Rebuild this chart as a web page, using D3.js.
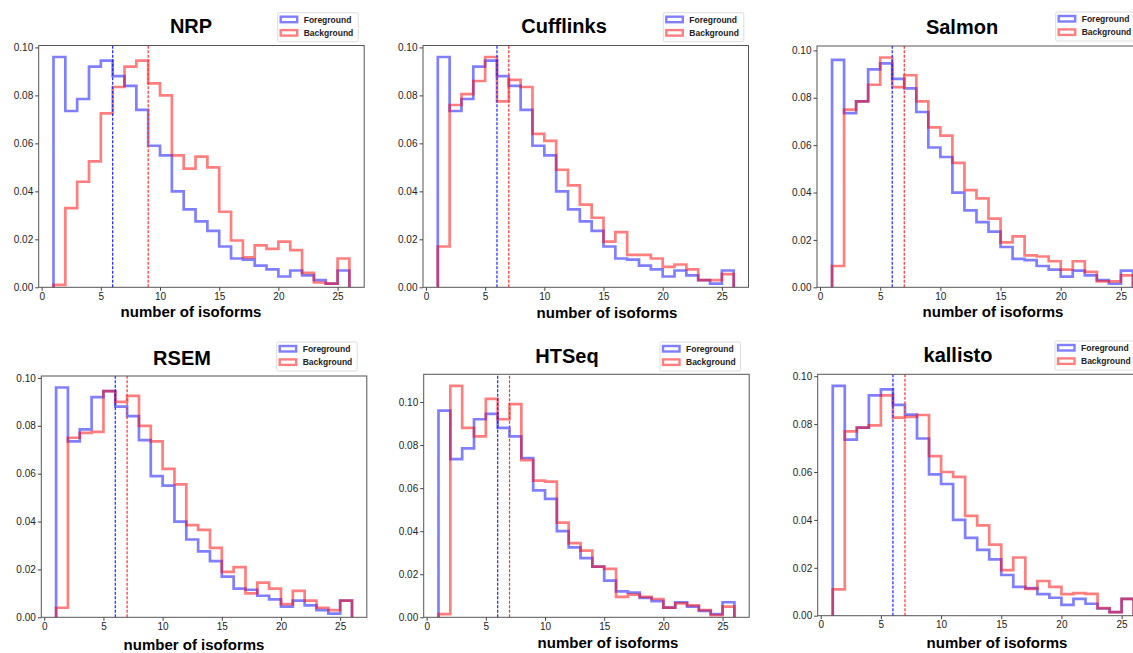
<!DOCTYPE html>
<html>
<head>
<meta charset="utf-8">
<script src="https://cdn.jsdelivr.net/npm/d3@7"></script>
<style>
  body { margin: 0; background: #fff; }
  .chart text { font-family: "Liberation Sans", Arial, sans-serif; }
  .axis text { font-size: 10px; fill: #222; }
  .axis path, .axis line { stroke: #444; }
</style>
</head>
<body>
<div class="chart"></div>
<script>
// histogram bin edges (number of isoforms)
const binEdges = [1, 2, 3, 4, 5, 6, 7, 8, 9, 10, 11, 12, 13, 14, 15, 16, 17, 18, 19, 20, 21, 22, 23, 24, 25, 26];

const methods = ["NRP", "Cufflinks", "Salmon", "RSEM", "HTSeq", "kallisto"];

// foreground is the same gene set in every panel
const foreground = [0.096, 0.0735, 0.0785, 0.092, 0.0945, 0.088, 0.084, 0.074, 0.059, 0.055,
  0.040, 0.0325, 0.0275, 0.0235, 0.017, 0.012, 0.0115, 0.009, 0.0075, 0.0045,
  0.007, 0.005, 0.003, 0.0015, 0.007];

const nrpBackground = [0.001, 0.033, 0.044, 0.0525, 0.0725, 0.0835, 0.092, 0.0945, 0.085, 0.080,
  0.055, 0.0495, 0.0545, 0.050, 0.0315, 0.0195, 0.0125, 0.0175, 0.016, 0.019,
  0.0155, 0.006, 0.002, 0.0015, 0.012];
const cufflinksBackground = [0.017, 0.076, 0.0805, 0.086, 0.096, 0.0775, 0.0865, 0.0835, 0.064, 0.061,
  0.049, 0.0425, 0.0345, 0.029, 0.019, 0.023, 0.0135, 0.0135, 0.012, 0.0085,
  0.0095, 0.0075, 0.003, 0.003, 0.0055];
const salmonBackground = [0.009, 0.075, 0.0785, 0.0855, 0.097, 0.0845, 0.0895, 0.0785, 0.0675, 0.064,
  0.0525, 0.041, 0.0375, 0.029, 0.019, 0.0215, 0.0135, 0.013, 0.011, 0.0075,
  0.011, 0.0065, 0.0025, 0.0025, 0.005];
const rsemBackground = [0.004, 0.075, 0.077, 0.0775, 0.0945, 0.090, 0.0925, 0.080, 0.0735, 0.062,
  0.0555, 0.0385, 0.0365, 0.029, 0.019, 0.021, 0.010, 0.0145, 0.012, 0.0055,
  0.011, 0.007, 0.004, 0.003, 0.007];
const htseqBackground = [0.0015, 0.1075, 0.088, 0.084, 0.1015, 0.092, 0.099, 0.073, 0.0635, 0.063,
  0.044, 0.0345, 0.031, 0.0235, 0.0225, 0.0095, 0.0105, 0.0095, 0.0085, 0.0045,
  0.0065, 0.0055, 0.0033, 0.001, 0.005];
const kallistoBackground = [0.011, 0.077, 0.0785, 0.0795, 0.092, 0.0827, 0.083, 0.0838, 0.0666, 0.060,
  0.058, 0.0417, 0.0377, 0.0297, 0.019, 0.0243, 0.0112, 0.0145, 0.012, 0.009,
  0.0094, 0.0091, 0.0032, 0.0015, 0.007];

const backgrounds = [nrpBackground, cufflinksBackground, salmonBackground,
  rsemBackground, htseqBackground, kallistoBackground];

// dashed lines: median number of isoforms per set
const fgMedian = [6, 6, 6, 6, 6, 6];
const bgMedian = [9, 7, 7, 7, 7, 7];

const xTicks = [0, 5, 10, 15, 20, 25];
const yTicks = [0, 0.02, 0.04, 0.06, 0.08, 0.10];
const legendLabels = ["Foreground", "Background"];
const xLabel = "number of isoforms";

// panel boxes on the page
const frames = [
  { left: 38.7, top: 45.5, w: 325.5, bottom: 287.3, titleX: 191, titleY: 33, labelX: 191, labelY: 317, legX: 277.7, legY: 12.7 },
  { left: 423, top: 45.5, w: 325.5, bottom: 287.3, titleX: 564, titleY: 33, labelX: 607, labelY: 318, legX: 663.3, legY: 12.7 },
  { left: 817, top: 46, w: 331, bottom: 287.3, titleX: 962, titleY: 34, labelX: 993, labelY: 317, legX: 1055.7, legY: 12 },
  { left: 41.3, top: 376, w: 325.5, bottom: 617.3, titleX: 182, titleY: 365, labelX: 194, labelY: 650, legX: 276.7, legY: 342 },
  { left: 423.7, top: 374.3, w: 325.5, bottom: 617.3, titleX: 567, titleY: 363, labelX: 608, labelY: 648, legX: 660, legY: 342 },
  { left: 817.7, top: 374.3, w: 331, bottom: 615.7, titleX: 958, titleY: 362, labelX: 997, labelY: 648, legX: 1055, legY: 341 }
];

const fgColor = "#0000ff", bgColor = "#ff0000";
const fgDash = "#2020ff", bgDash = "#ff3030";

const svg = d3.select(".chart")
  .append("svg")
  .attr("width", 1133)
  .attr("height", 653);

function stepPoints(values) {
  const pts = [[binEdges[0], 0]];
  values.forEach((v, i) => {
    pts.push([binEdges[i], v]);
    pts.push([binEdges[i + 1], v]);
  });
  pts.push([binEdges[binEdges.length - 1], 0]);
  return pts;
}

methods.forEach((name, k) => {
  const f = frames[k];
  const bg = backgrounds[k];
  const ymax = d3.max([d3.max(foreground), d3.max(bg)]) * 1.05;

  const x = d3.scaleLinear().domain([-0.25, 27.25]).range([f.left, f.left + f.w]);
  const y = d3.scaleLinear().domain([0, ymax]).range([f.bottom, f.top]);

  const g = svg.append("g");

  const line = d3.line().x(d => x(d[0])).y(d => y(d[1]));

  g.append("path")
    .attr("d", line(stepPoints(foreground)))
    .attr("fill", "none")
    .attr("stroke", fgColor)
    .attr("stroke-opacity", 0.5)
    .attr("stroke-width", 2.7)
    .attr("stroke-linejoin", "miter");

  g.append("path")
    .attr("d", line(stepPoints(bg)))
    .attr("fill", "none")
    .attr("stroke", bgColor)
    .attr("stroke-opacity", 0.5)
    .attr("stroke-width", 2.7)
    .attr("stroke-linejoin", "miter");

  // median markers
  [[fgMedian[k], fgDash], [bgMedian[k], bgDash]].forEach(([m, c]) => {
    g.append("line")
      .attr("x1", x(m)).attr("x2", x(m))
      .attr("y1", f.bottom).attr("y2", f.top)
      .attr("stroke", c)
      .attr("stroke-width", 1.2)
      .attr("stroke-dasharray", "3,1.5");
  });

  // frame
  g.append("rect")
    .attr("x", f.left).attr("y", f.top)
    .attr("width", f.w).attr("height", f.bottom - f.top)
    .attr("fill", "none")
    .attr("stroke", "#555")
    .attr("stroke-width", 1);

  const xAxis = d3.axisBottom(x).tickValues(xTicks).tickSize(3.5).tickPadding(2).tickFormat(d3.format("d"));
  g.append("g")
    .attr("class", "axis x-axis")
    .attr("transform", `translate(0, ${f.bottom})`)
    .call(xAxis)
    .call(a => a.select(".domain").remove());

  const yAxis = d3.axisLeft(y).tickValues(yTicks.filter(t => t <= ymax)).tickSize(3.5).tickPadding(2).tickFormat(d3.format(".2f"));
  g.append("g")
    .attr("class", "axis y-axis")
    .attr("transform", `translate(${f.left}, 0)`)
    .call(yAxis)
    .call(a => a.select(".domain").remove());

  g.append("text")
    .attr("x", f.titleX)
    .attr("y", f.titleY)
    .attr("text-anchor", "middle")
    .style("font-size", "20px")
    .style("font-weight", "bold")
    .text(name);

  g.append("text")
    .attr("x", f.labelX)
    .attr("y", f.labelY)
    .attr("text-anchor", "middle")
    .style("font-size", "15px")
    .style("font-weight", "bold")
    .text(xLabel);

  // legend
  const leg = g.append("g").attr("transform", `translate(${f.legX}, ${f.legY})`);
  leg.append("rect")
    .attr("width", 80.5).attr("height", 29)
    .attr("rx", 1.5)
    .attr("fill", "#fff")
    .attr("stroke", "#ddd")
    .attr("stroke-width", 1);

  leg.selectAll(".swatch")
    .data(legendLabels)
    .enter()
    .append("rect")
    .attr("class", "swatch")
    .attr("x", 3)
    .attr("y", (d, i) => 4 + i * 13.4)
    .attr("width", 16.5)
    .attr("height", 5.5)
    .attr("fill", "none")
    .attr("stroke", (d, i) => i === 0 ? fgColor : bgColor)
    .attr("stroke-opacity", 0.5)
    .attr("stroke-width", 2.4);

  leg.selectAll(".lab")
    .data(legendLabels)
    .enter()
    .append("text")
    .attr("class", "lab")
    .attr("x", 26)
    .attr("y", (d, i) => 10 + i * 13.4)
    .style("font-size", "8.5px")
    .style("font-weight", "bold")
    .style("fill", "#222")
    .text(d => d);
});
</script>
</body>
</html>
